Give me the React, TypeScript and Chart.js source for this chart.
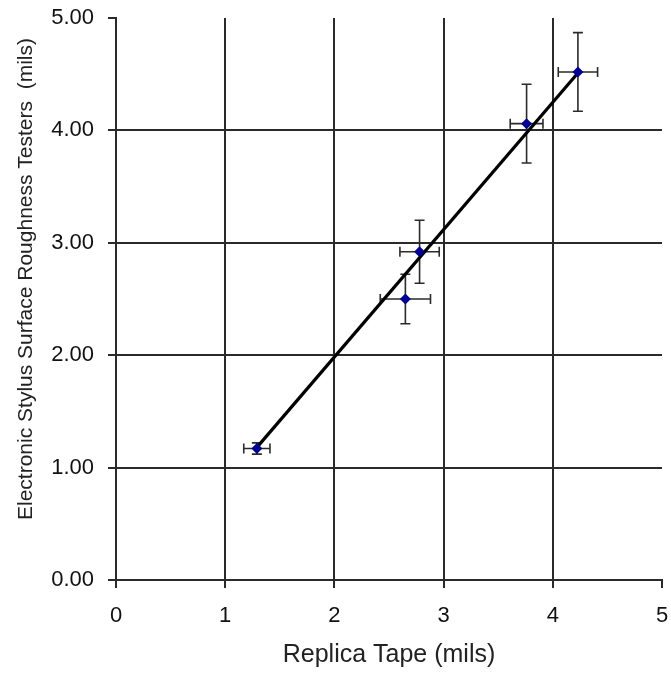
import React, { useEffect, useRef } from 'react';
import { Chart, registerables } from 'chart.js';

Chart.register(...registerables);

// ---- data ----
const replicaTape = [1.29, 2.65, 2.78, 3.76, 4.23];
const stylusValues = [1.17, 2.5, 2.92, 4.06, 4.52];
const replicaErr = [0.12, 0.23, 0.18, 0.15, 0.18];
const stylusErr = [0.05, 0.22, 0.28, 0.35, 0.35];
const fitX = [1.29, 4.23];
const fitY = [1.18, 4.51];
const xTickValues = [0, 1, 2, 3, 4, 5];
const yTickValues = [0, 1, 2, 3, 4, 5];
const xTitle = 'Replica Tape (mils)';
const yTitle = 'Electronic Stylus Surface Roughness Testers  (mils)';

const FONT = '"Liberation Sans", Arial, Helvetica, sans-serif';
const GRID = '#2a2a2a';

const errorBarsPlugin = {
  id: 'errorBars',
  beforeDatasetsDraw(chart: any) {
    const { ctx, scales } = chart;
    const x = scales.x;
    const y = scales.y;
    const cap = 5;
    ctx.save();
    ctx.strokeStyle = '#2b2b2b';
    ctx.lineWidth = 1.6;
    replicaTape.forEach((vx, i) => {
      const vy = stylusValues[i];
      const px = x.getPixelForValue(vx);
      const py = y.getPixelForValue(vy);
      const xl = x.getPixelForValue(vx - replicaErr[i]);
      const xr = x.getPixelForValue(vx + replicaErr[i]);
      const yt = y.getPixelForValue(vy + stylusErr[i]);
      const yb = y.getPixelForValue(vy - stylusErr[i]);
      ctx.beginPath();
      ctx.moveTo(xl, py);
      ctx.lineTo(xr, py);
      ctx.moveTo(xl, py - cap);
      ctx.lineTo(xl, py + cap);
      ctx.moveTo(xr, py - cap);
      ctx.lineTo(xr, py + cap);
      ctx.moveTo(px, yt);
      ctx.lineTo(px, yb);
      ctx.moveTo(px - cap, yt);
      ctx.lineTo(px + cap, yt);
      ctx.moveTo(px - cap, yb);
      ctx.lineTo(px + cap, yb);
      ctx.stroke();
    });
    ctx.restore();
  },
};

const yTitlePlugin = {
  id: 'yTitle',
  afterDraw(chart: any) {
    const { ctx, chartArea } = chart;
    ctx.save();
    ctx.translate(26, (chartArea.top + chartArea.bottom) / 2 - 20);
    ctx.rotate(-Math.PI / 2);
    ctx.font = `21px ${FONT}`;
    ctx.fillStyle = '#222222';
    ctx.textAlign = 'center';
    ctx.textBaseline = 'middle';
    ctx.fillText(yTitle, 0, 0);
    ctx.restore();
  },
};

export default function App() {
  const canvasRef = useRef<HTMLCanvasElement | null>(null);

  useEffect(() => {
    if (!canvasRef.current) return;
    const chart = new Chart(canvasRef.current, {
      type: 'scatter',
      data: {
        datasets: [
          {
            type: 'scatter',
            label: 'Measurements',
            data: replicaTape.map((v, i) => ({ x: v, y: stylusValues[i] })),
            pointStyle: 'rectRot',
            pointRadius: 5.5,
            pointBackgroundColor: '#000099',
            pointBorderColor: '#000099',
            pointBorderWidth: 0,
            order: 0,
          },
          {
            type: 'line',
            label: 'Fit',
            data: fitX.map((v, i) => ({ x: v, y: fitY[i] })),
            borderColor: '#000000',
            borderWidth: 3.2,
            pointRadius: 0,
            fill: false,
            order: 1,
          },
        ],
      },
      options: {
        animation: false,
        responsive: true,
        maintainAspectRatio: false,
        layout: { padding: { top: 18, right: 9, left: 0, bottom: 0 } },
        plugins: {
          legend: { display: false },
          tooltip: { enabled: false },
        },
        scales: {
          x: {
            type: 'linear',
            min: 0,
            max: 5,
            afterBuildTicks: (s: any) => {
              s.ticks = xTickValues.map((v) => ({ value: v }));
            },
            afterFit: (s: any) => {
              s.height = 93;
              s.paddingLeft = 0;
              s.paddingRight = 0;
              s.paddingTop = 0;
              s.paddingBottom = 0;
            },
            ticks: {
              font: { family: FONT, size: 22 },
              color: '#111111',
              padding: 15,
              callback: (v: any) => String(v),
            },
            grid: {
              color: (c: any) => (c.tick && c.tick.value === 5 ? 'rgba(0,0,0,0)' : GRID),
              tickColor: GRID,
              lineWidth: 2,
              tickLength: 8,
            },
            border: { display: true, color: GRID, width: 2 },
            title: {
              display: true,
              text: xTitle,
              font: { family: FONT, size: 25 },
              color: '#222222',
              padding: { top: 0, bottom: 3 },
            },
          },
          y: {
            type: 'linear',
            min: 0,
            max: 5,
            afterBuildTicks: (s: any) => {
              s.ticks = yTickValues.map((v) => ({ value: v }));
            },
            afterFit: (s: any) => {
              s.width = 116;
              s.paddingLeft = 0;
              s.paddingRight = 0;
              s.paddingTop = 0;
              s.paddingBottom = 0;
            },
            ticks: {
              font: { family: FONT, size: 22 },
              color: '#111111',
              padding: 14,
              callback: (v: any) => Number(v).toFixed(2),
            },
            grid: {
              color: (c: any) => (c.tick && c.tick.value === 5 ? 'rgba(0,0,0,0)' : GRID),
              tickColor: GRID,
              lineWidth: 2,
              tickLength: 8,
            },
            border: { display: true, color: GRID, width: 2 },
          },
        },
      },
      plugins: [errorBarsPlugin, yTitlePlugin],
    } as any);
    return () => chart.destroy();
  }, []);

  return (
    <div style={{ position: 'absolute', left: 0, top: 0, width: 671, height: 673, background: '#ffffff' }}>
      <canvas ref={canvasRef} />
    </div>
  );
}
